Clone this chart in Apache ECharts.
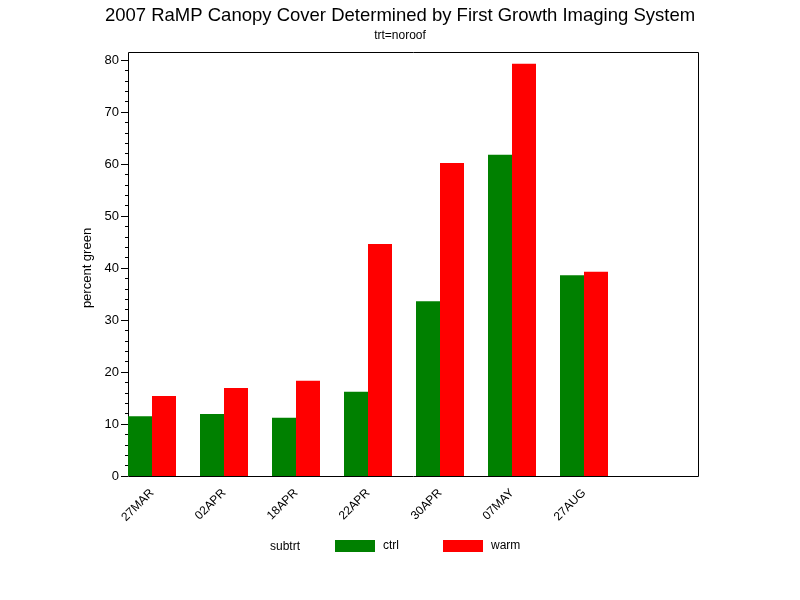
<!DOCTYPE html>
<html>
<head>
<meta charset="utf-8">
<script src="https://cdn.jsdelivr.net/npm/echarts@6/dist/echarts.min.js"></script>
<style>html,body{margin:0;padding:0;background:#fff}#c{width:800px;height:600px}</style>
</head>
<body>
<div id="c"></div>
<script>
var categories = ['27MAR', '02APR', '18APR', '22APR', '30APR', '07MAY', '27AUG'];
var ctrlValues = [11.5, 11.9, 11.2, 16.2, 33.6, 61.8, 38.6];
var warmValues = [15.4, 16.9, 18.3, 44.6, 60.2, 79.3, 39.3];
var yTicks = [0, 10, 20, 30, 40, 50, 60, 70, 80];

var FONT = 'Liberation Sans';
var chart = echarts.init(document.getElementById('c'), null, {renderer: 'canvas'});
var axisCats = categories.concat(['']);
var legendText = {fontFamily: FONT, fontSize: 12, color: '#000', padding: [0, 0, 0, 3]};
var option = {
  backgroundColor: '#fff',
  animation: false,
  title: [
    {text: '2007 RaMP Canopy Cover Determined by First Growth Imaging System', left: 'center', top: 1,
     textStyle: {fontFamily: FONT, fontSize: 18.5, fontWeight: 'normal', color: '#000'}},
    {text: 'trt=noroof', left: 'center', top: 25,
     textStyle: {fontFamily: FONT, fontSize: 12, fontWeight: 'normal', color: '#000'}}
  ],
  legend: [
    {left: 335, top: 540, padding: 0, itemWidth: 40, itemHeight: 12, icon: 'rect', textStyle: legendText, data: ['ctrl']},
    {left: 443, top: 540, padding: 0, itemWidth: 40, itemHeight: 12, icon: 'rect', textStyle: legendText, data: ['warm']}
  ],
  graphic: [
    {type: 'text', left: 270, top: 541, style: {text: 'subtrt', fontFamily: FONT, fontSize: 12, fill: '#000'}}
  ],
  grid: [
    {left: 128.5, top: 52.5, width: 570, height: 424, show: true, borderColor: '#000', borderWidth: 1, backgroundColor: 'transparent'},
    {left: 128, top: 60, width: 570, height: 416},
    {left: 116, top: 60, width: 576, height: 416}
  ],
  xAxis: [
    {gridIndex: 0, type: 'category', data: axisCats, show: false},
    {gridIndex: 1, type: 'category', data: axisCats, show: false},
    {gridIndex: 2, type: 'category', data: axisCats,
     axisLine: {show: false}, axisTick: {show: false},
     axisLabel: {rotate: 45, interval: 0, margin: 15, fontFamily: FONT, fontSize: 12, color: '#000'}}
  ],
  yAxis: [
    {gridIndex: 0, type: 'value', min: 0, max: 81.5, show: false},
    {gridIndex: 1, type: 'value', min: 0, max: 80, interval: 10,
     name: 'percent green', nameLocation: 'middle', nameGap: 34, nameRotate: 90,
     nameTextStyle: {fontFamily: FONT, fontSize: 13, color: '#000'},
     axisLine: {show: false},
     axisTick: {show: true, length: 7, inside: false, lineStyle: {color: '#000'}},
     minorTick: {show: true, splitNumber: 5, length: 3, lineStyle: {color: '#000'}},
     splitLine: {show: false},
     axisLabel: {margin: 9, fontFamily: FONT, fontSize: 13, color: '#000',
       formatter: function (v) { return yTicks.indexOf(v) >= 0 ? String(v) : ''; }}},
    {gridIndex: 2, type: 'value', min: 0, max: 80, show: false}
  ],
  series: [
    {name: 'ctrl', type: 'bar', xAxisIndex: 2, yAxisIndex: 2, data: ctrlValues,
     barWidth: 24, barGap: '0%', itemStyle: {color: '#008000'}},
    {name: 'warm', type: 'bar', xAxisIndex: 2, yAxisIndex: 2, data: warmValues,
     barWidth: 24, barGap: '0%', itemStyle: {color: '#ff0000'}}
  ]
};
chart.setOption(option);
</script>
</body>
</html>
